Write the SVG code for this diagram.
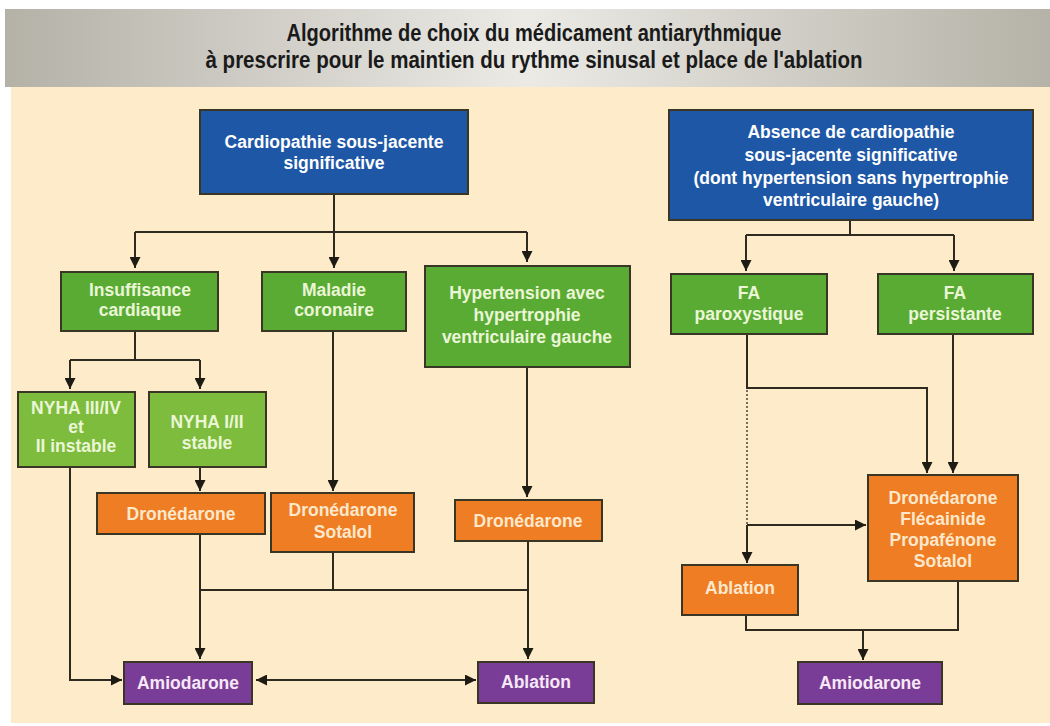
<svg xmlns="http://www.w3.org/2000/svg" width="1050" height="726" viewBox="0 0 1050 726">
<defs>
<linearGradient id="hdr" x1="0" y1="0" x2="1" y2="0">
<stop offset="0" stop-color="#b4b1a7"/>
<stop offset="0.5" stop-color="#ebeae5"/>
<stop offset="1" stop-color="#b5b2a7"/>
</linearGradient>
<marker id="arr" viewBox="0 0 10 10" refX="10" refY="5" markerWidth="12" markerHeight="11" markerUnits="userSpaceOnUse" orient="auto-start-reverse">
<path d="M0,0 L10,5 L0,10 z" fill="#1e1b14"/>
</marker>
</defs>
<style>
.box{stroke:#3a3626;stroke-width:2}
.blue{fill:#1e57a6}
.green{fill:#5aab34}
.lgreen{fill:#7dbc3c}
.orange{fill:#ee7d23}
.purple{fill:#7a3d97}
text{font-family:"Liberation Sans",Arial,sans-serif;font-weight:bold;font-size:17.5px;text-anchor:middle}
.tb{fill:#ffffff}
.tg{fill:#eaf6d6}
.to{fill:#fde8cc}
.tp{fill:#f6e8f6}
.title{font-size:24px;fill:#1a1a1a}
.ln{fill:none;stroke:#2e2a1f;stroke-width:2}
.la{fill:none;stroke:#2e2a1f;stroke-width:2;marker-end:url(#arr)}
</style>
<rect x="0" y="0" width="1050" height="726" fill="#ffffff"/>
<rect x="11" y="87" width="1039" height="636" fill="#fdebca"/>
<rect x="5" y="9" width="1045" height="78" fill="url(#hdr)"/>
<g id="title">
<text class="title" x="534" y="41" textLength="495" lengthAdjust="spacingAndGlyphs">Algorithme de choix du médicament antiarythmique</text>
<text class="title" x="534" y="68" textLength="657" lengthAdjust="spacingAndGlyphs">à prescrire pour le maintien du rythme sinusal et place de l'ablation</text>
</g>
<g id="connectors">
<path class="ln" d="M334,194 V232 M135,232 H527"/>
<path class="la" d="M135,232 V268"/>
<path class="la" d="M334,232 V268"/>
<path class="la" d="M527,232 V262"/>
<path class="ln" d="M135,331 V360 M70,360 H200"/>
<path class="la" d="M70,360 V389"/>
<path class="la" d="M200,360 V389"/>
<path class="la" d="M200,467 V491"/>
<path class="la" d="M333,331 V491"/>
<path class="la" d="M527,367 V497"/>
<path class="la" d="M70,467 V680 H122"/>
<path class="ln" d="M200,590 H528 M333,552 V590"/>
<path class="la" d="M200,534 V659"/>
<path class="la" d="M528,541 V659"/>
<path class="la" d="M256,680 H476" marker-start="url(#arr)"/>
<path class="ln" d="M850,220 V235 M746,235 H954"/>
<path class="la" d="M746,235 V271"/>
<path class="la" d="M954,235 V271"/>
<path class="la" d="M747,334 V388 H927 V473"/>
<path class="la" d="M953,334 V473"/>
<path d="M747,390 V525" fill="none" stroke="#4a4536" stroke-width="1.5" stroke-dasharray="2 2"/>
<path class="la" d="M747,525 H866"/>
<path class="la" d="M747,525 V563"/>
<path class="ln" d="M746,615 V630 H958 V581"/>
<path class="la" d="M863,630 V660"/>
</g>
<g id="n-cardio">
<rect class="box blue" x="200" y="110" width="268" height="84"/>
<text class="tb" x="334" y="148">Cardiopathie sous-jacente</text>
<text class="tb" x="334" y="169">significative</text>
</g>
<g id="n-absence">
<rect class="box blue" x="669" y="110" width="364" height="110"/>
<text class="tb" x="851" y="138">Absence de cardiopathie</text>
<text class="tb" x="851" y="161">sous-jacente significative</text>
<text class="tb" x="851" y="184">(dont hypertension sans hypertrophie</text>
<text class="tb" x="851" y="206">ventriculaire gauche)</text>
</g>
<g id="n-insuff">
<rect class="box green" x="61" y="272" width="157" height="59"/>
<text class="tg" x="140" y="296">Insuffisance</text>
<text class="tg" x="140" y="316">cardiaque</text>
</g>
<g id="n-maladie">
<rect class="box green" x="262" y="272" width="144" height="59"/>
<text class="tg" x="334" y="296">Maladie</text>
<text class="tg" x="334" y="316">coronaire</text>
</g>
<g id="n-hta">
<rect class="box green" x="425" y="266" width="205" height="101"/>
<text class="tg" x="527" y="299">Hypertension avec</text>
<text class="tg" x="527" y="321">hypertrophie</text>
<text class="tg" x="527" y="343">ventriculaire gauche</text>
</g>
<g id="n-fapar">
<rect class="box green" x="671" y="274" width="156" height="60"/>
<text class="tg" x="749" y="299">FA</text>
<text class="tg" x="749" y="320">paroxystique</text>
</g>
<g id="n-fapers">
<rect class="box green" x="878" y="274" width="155" height="60"/>
<text class="tg" x="955" y="299">FA</text>
<text class="tg" x="955" y="320">persistante</text>
</g>
<g id="n-nyha34">
<rect class="box lgreen" x="18" y="392" width="117" height="75"/>
<text class="tg" x="76" y="414">NYHA III/IV</text>
<text class="tg" x="76" y="433">et</text>
<text class="tg" x="76" y="452">II instable</text>
</g>
<g id="n-nyha12">
<rect class="box lgreen" x="149" y="392" width="117" height="75"/>
<text class="tg" x="207" y="428">NYHA I/II</text>
<text class="tg" x="207" y="449">stable</text>
</g>
<g id="n-drone1">
<rect class="box orange" x="97" y="493" width="168" height="41"/>
<text class="to" x="181" y="520">Dronédarone</text>
</g>
<g id="n-dronesot">
<rect class="box orange" x="271" y="493" width="143" height="59"/>
<text class="to" x="343" y="516">Dronédarone</text>
<text class="to" x="343" y="538">Sotalol</text>
</g>
<g id="n-drone2">
<rect class="box orange" x="455" y="500" width="147" height="41"/>
<text class="to" x="528" y="527">Dronédarone</text>
</g>
<g id="n-multi">
<rect class="box orange" x="868" y="475" width="150" height="106"/>
<text class="to" x="943" y="504">Dronédarone</text>
<text class="to" x="943" y="525">Flécainide</text>
<text class="to" x="943" y="546">Propafénone</text>
<text class="to" x="943" y="567">Sotalol</text>
</g>
<g id="n-ablation-r">
<rect class="box orange" x="682" y="565" width="116" height="50"/>
<text class="to" x="740" y="594">Ablation</text>
</g>
<g id="n-amio-l">
<rect class="box purple" x="124" y="662" width="128" height="42"/>
<text class="tp" x="188" y="689">Amiodarone</text>
</g>
<g id="n-ablation-l">
<rect class="box purple" x="478" y="662" width="116" height="41"/>
<text class="tp" x="536" y="688">Ablation</text>
</g>
<g id="n-amio-r">
<rect class="box purple" x="798" y="662" width="144" height="42"/>
<text class="tp" x="870" y="689">Amiodarone</text>
</g>
</svg>
